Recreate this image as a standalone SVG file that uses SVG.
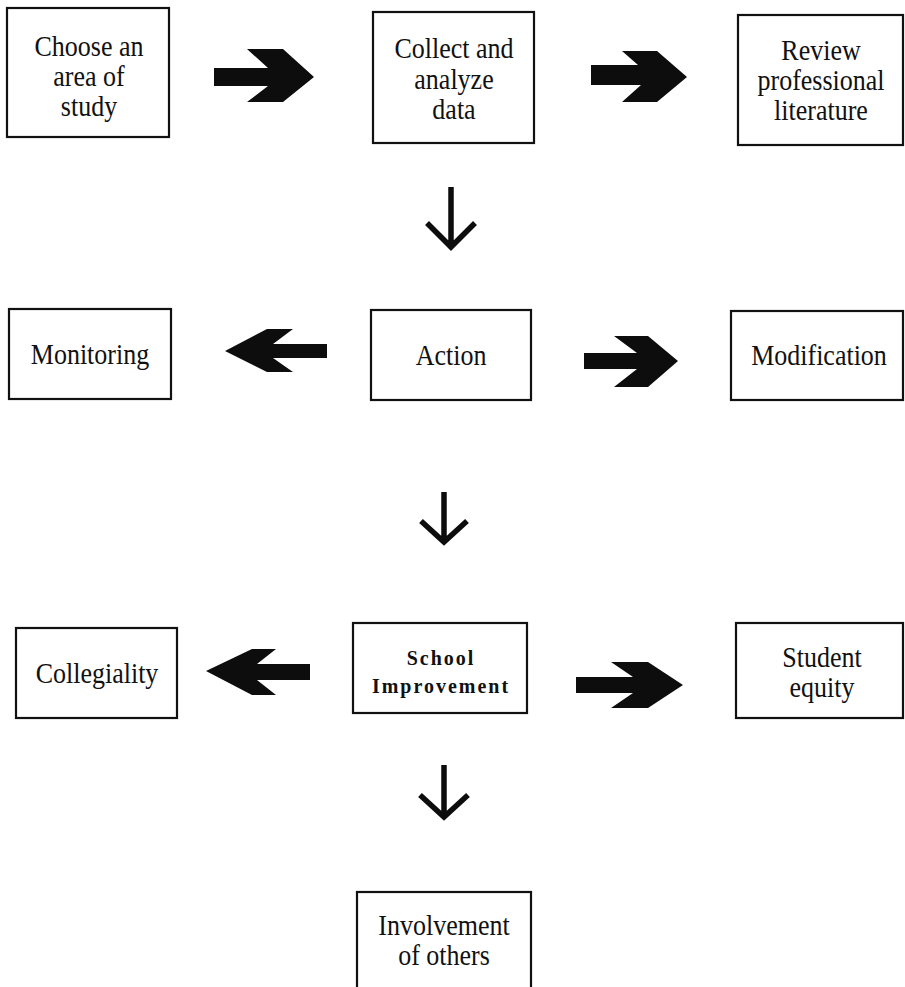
<svg xmlns="http://www.w3.org/2000/svg" width="905" height="987" viewBox="0 0 905 987">
<style>
.box{fill:#fff;stroke:#111;stroke-width:2.2}
.t{font-family:"Liberation Serif","Times New Roman",serif;font-size:26px;fill:#111;text-anchor:middle}
.tb{font-family:"Liberation Serif","Times New Roman",serif;font-size:20px;font-weight:bold;letter-spacing:2px;fill:#111;text-anchor:middle}
.blk{fill:#0d0d0d}
.down{fill:none;stroke:#0d0d0d;stroke-width:5.5;stroke-linejoin:miter}
</style>
<rect width="905" height="987" fill="#fff"/>
<g id="n-choose">
<rect class="box" x="7" y="8" width="162" height="129"/>
<text class="t" transform="translate(89,56) scale(1,1.12)">Choose an</text>
<text class="t" transform="translate(89,86) scale(1,1.12)">area of</text>
<text class="t" transform="translate(89,116) scale(1,1.12)">study</text>
</g>
<g id="n-collect">
<rect class="box" x="373" y="12" width="161" height="131"/>
<text class="t" transform="translate(454,58) scale(1,1.12)">Collect and</text>
<text class="t" transform="translate(454,89) scale(1,1.12)">analyze</text>
<text class="t" transform="translate(454,119) scale(1,1.12)">data</text>
</g>
<g id="n-review">
<rect class="box" x="738" y="15" width="165" height="130"/>
<text class="t" transform="translate(821,60) scale(1,1.12)">Review</text>
<text class="t" transform="translate(821,90) scale(1,1.12)">professional</text>
<text class="t" transform="translate(821,120) scale(1,1.12)">literature</text>
</g>
<g id="n-monitoring">
<rect class="box" x="9" y="309" width="162" height="90"/>
<text class="t" transform="translate(90,364) scale(1,1.12)">Monitoring</text>
</g>
<g id="n-action">
<rect class="box" x="371" y="310" width="160" height="90"/>
<text class="t" transform="translate(451,365) scale(1,1.12)">Action</text>
</g>
<g id="n-modification">
<rect class="box" x="731" y="311" width="172" height="89"/>
<text class="t" transform="translate(819,365) scale(1,1.12)">Modification</text>
</g>
<g id="n-collegiality">
<rect class="box" x="16" y="628" width="161" height="90"/>
<text class="t" transform="translate(97,683) scale(1,1.12)">Collegiality</text>
</g>
<g id="n-school">
<rect class="box" x="353" y="623" width="174" height="90"/>
<text class="tb" transform="translate(441,665) scale(1,1.08)">School</text>
<text class="tb" transform="translate(441,693) scale(1,1.08)">Improvement</text>
</g>
<g id="n-student">
<rect class="box" x="736" y="623" width="167" height="95"/>
<text class="t" transform="translate(822,667) scale(1,1.12)">Student</text>
<text class="t" transform="translate(822,697) scale(1,1.12)">equity</text>
</g>
<g id="n-involvement">
<rect class="box" x="357" y="892" width="174" height="110"/>
<text class="t" transform="translate(444,935) scale(1,1.12)">Involvement</text>
<text class="t" transform="translate(444,965) scale(1,1.12)">of others</text>
</g>
<g id="connectors">
<polygon class="blk" points="214,68 268,68 247,49 283,49 314,77 283,102 247,102 268,86 214,86"/>
<polygon class="blk" points="591,65 638,65 622,51 657,51 687,77 657,102 622,102 641,85 591,85"/>
<path class="down" d="M451,187 V247 M427,223 L451,247 L475,223"/>
<polygon class="blk" points="327,344 273,344 293,329 267,329 225,351 267,372 293,372 273,358 327,358"/>
<polygon class="blk" points="584,353 637,353 614,336 648,336 678,361 648,387 614,387 637,369 584,369"/>
<path class="down" d="M444,492 V542 M421,521 L444,542 L467,521"/>
<polygon class="blk" points="310,664 257,664 276,649 252,649 206,671 252,695 276,695 257,680 310,680"/>
<polygon class="blk" points="576,677 633,677 611,662 648,662 683,685 648,708 611,708 633,693 576,693"/>
<path class="down" d="M444,765 V817 M420,795 L444,817 L468,795"/>
</g>
</svg>
